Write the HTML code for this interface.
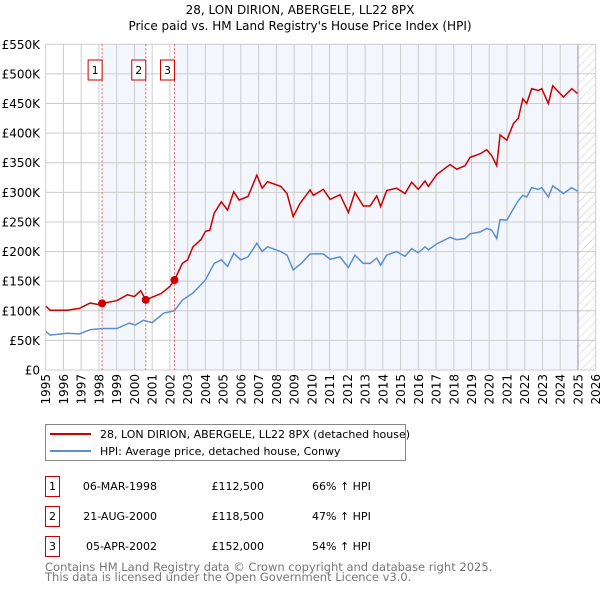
<!DOCTYPE html>
<html><head><meta charset="utf-8"><style>
body{margin:0;background:#fff;font-family:"Liberation Sans","DejaVu Sans",sans-serif}
svg{display:block}
</style></head><body>
<svg width="600" height="590" xmlns="http://www.w3.org/2000/svg" font-family="DejaVu Sans, Liberation Sans, sans-serif" id="chart">
<text x="300" y="14" text-anchor="middle" font-size="12">28, LON DIRION, ABERGELE, LL22 8PX</text>
<text x="300" y="30" text-anchor="middle" font-size="12">Price paid vs. HM Land Registry's House Price Index (HPI)</text>
<defs>
<pattern id="hatch" width="6" height="6" patternUnits="userSpaceOnUse" patternTransform="rotate(45)">
<line x1="0" y1="0" x2="0" y2="6" stroke="#ccc" stroke-width="1"/></pattern>
<clipPath id="clip"><rect x="45.7" y="44.3" width="550" height="325.7"/></clipPath>
</defs>
<g id="bands"></g><g id="grid"></g><g id="axes"></g><g id="series" clip-path="url(#clip)"></g><g id="marks"></g>
<g>
<rect x="45.5" y="424.5" width="360" height="36" fill="#fff" stroke="#888"/>
<line x1="50" y1="434" x2="91" y2="434" stroke="#cc0000" stroke-width="2"/>
<text x="100" y="438" font-size="11">28, LON DIRION, ABERGELE, LL22 8PX (detached house)</text>
<line x1="50" y1="451" x2="91" y2="451" stroke="#5b8fd0" stroke-width="2"/>
<text x="100" y="455" font-size="11">HPI: Average price, detached house, Conwy</text>
</g>
<g id="table" font-size="11"></g>
<text x="45" y="571" font-size="11.5" fill="#777">Contains HM Land Registry data © Crown copyright and database right 2025.</text>
<text x="45" y="581" font-size="11.5" fill="#777">This data is licensed under the Open Government Licence v3.0.</text>
</svg>
<script>
const NS="http://www.w3.org/2000/svg";
const yearTicks=[1995,1996,1997,1998,1999,2000,2001,2002,2003,2004,2005,2006,2007,2008,2009,2010,2011,2012,2013,2014,2015,2016,2017,2018,2019,2020,2021,2022,2023,2024,2025,2026];
const valueTicks=[0,50000,100000,150000,200000,250000,300000,350000,400000,450000,500000,550000];
const valueLabels=["£0","£50K","£100K","£150K","£200K","£250K","£300K","£350K","£400K","£450K","£500K","£550K"];
const hpiYears=[1995,1995.25,1996.2,1996.9,1997.5,1998.17,1999,1999.7,2000.05,2000.5,2001,2001.65,2002.25,2002.7,2003.3,2003.75,2004,2004.5,2004.9,2005.25,2005.6,2006,2006.4,2006.9,2007.2,2007.5,2008.25,2008.6,2008.95,2009.4,2009.9,2010.65,2011.03,2011.59,2012.06,2012.43,2012.9,2013.28,2013.66,2013.88,2014.22,2014.78,2015.25,2015.63,2016,2016.38,2016.57,2017.04,2017.79,2018.17,2018.64,2018.92,2019.48,2019.86,2020.14,2020.42,2020.61,2020.99,2021.36,2021.64,2021.89,2022.11,2022.39,2022.77,2022.96,2023.33,2023.58,2024.18,2024.65,2024.97];
const hpiValues=[65,59,62,61,68,70,70,79,76,84,80,96,100,118,130,144,152,180,186,175,197,186,191,214,200,208,200,194,169,180,196,196,187,191,173,194,180,180,189,177,194,200,192,205,198,208,203,213,224,220,222,230,233,239,236,222,254,253,272,286,295,292,308,305,308,292,311,298,308,302];
const priceYears=[1995,1995.25,1996.2,1996.9,1997.5,1998.1,1998.17,1999,1999.6,2000,2000.35,2000.64,2001.5,2002,2002.26,2002.7,2003,2003.3,2003.75,2004,2004.25,2004.5,2004.9,2005.25,2005.6,2005.9,2006.4,2006.9,2007.2,2007.5,2008.25,2008.6,2008.95,2009.33,2009.9,2010.09,2010.65,2011.03,2011.59,2012.06,2012.43,2012.9,2013.28,2013.66,2013.88,2014.22,2014.78,2015.25,2015.63,2016,2016.38,2016.57,2017.04,2017.79,2018.17,2018.64,2018.92,2019.48,2019.86,2020.14,2020.42,2020.61,2020.99,2021.36,2021.64,2021.89,2022.11,2022.39,2022.77,2022.96,2023.33,2023.58,2024.18,2024.65,2024.97];
const priceValues=[108,101,101,104,113,110,112.5,117,127,124,134,118.5,129,141,152,180,186,208,220,234,236,265,284,270,301,287,293,329,307,318,310,298,259,281,304,295,305,288,296,266,300,277,277,294,276,303,307,298,317,305,319,310,330,347,339,345,359,365,372,362,345,397,388,416,425,458,450,475,472,475,450,480,461,475,467];
const saleLabels=["1","2","3"];
const saleYears=[1998.18,2000.64,2002.26];
const salePrices=[112500,118500,152000];
const saleDates=["06-MAR-1998","21-AUG-2000","05-APR-2002"];
const salePriceText=["£112,500","£118,500","£152,000"];
const salePct=["66% ↑ HPI","47% ↑ HPI","54% ↑ HPI"];
const X0=45.7,X1=595.7,Y0=370,Y1=44.3,T0=1995,T1=2026,VMAX=550000,DATA_END=2025.0;
const xs=t=>X0+(t-T0)/(T1-T0)*(X1-X0);
const ys=v=>Y0-v/VMAX*(Y0-Y1);
function el(tag,attrs,parent){const e=document.createElementNS(NS,tag);for(const k in attrs)e.setAttribute(k,attrs[k]);parent.appendChild(e);return e;}
const bands=document.getElementById('bands');
let r=el('rect',{x:X0,y:Y1,width:X1-X0,height:Y0-Y1,fill:'#fff'},bands);


r=el('rect',{x:xs(saleYears[0]),y:Y1,width:xs(saleYears[1])-xs(saleYears[0]),height:Y0-Y1,fill:'#f3f6fd'},bands);


r=el('rect',{x:xs(saleYears[2]),y:Y1,width:xs(DATA_END)-xs(saleYears[2]),height:Y0-Y1,fill:'#f3f6fd'},bands);


r=el('rect',{x:xs(DATA_END),y:Y1,width:X1-xs(DATA_END),height:Y0-Y1,fill:'url(#hatch)'},bands);


const grid=document.getElementById('grid'),axes=document.getElementById('axes');
yearTicks.forEach(t=>{
 const l=el('line',{x1:xs(t),x2:xs(t),y1:Y1,y2:Y0,stroke:'#ccc','stroke-width':1},grid);
 
 
 const tx=el('text',{x:0,y:0,'font-size':12,'text-anchor':'end',transform:`translate(${xs(t)+4.5},${Y0+4}) rotate(-90)`},axes);
 tx.textContent=t;
 
 
});
valueTicks.forEach((v,i)=>{
 const l=el('line',{x1:X0,x2:X1,y1:ys(v),y2:ys(v),stroke:'#ccc','stroke-width':1},grid);
 
 
 const tx=el('text',{x:40,y:ys(v)+4.5,'font-size':12,'text-anchor':'end'},axes);
 tx.textContent=valueLabels[i];
 
 
});
let el2=el('line',{x1:xs(DATA_END),x2:xs(DATA_END),y1:Y1,y2:Y0,stroke:'#999','stroke-width':1},grid);


const series=document.getElementById('series');
let p=el('polyline',{points:hpiYears.map((t,i)=>xs(t)+','+ys(hpiValues[i]*1000)).join(' '),fill:'none',stroke:'#5b8fd0','stroke-width':1.5},series);


p=el('polyline',{points:priceYears.map((t,i)=>xs(t)+','+ys(priceValues[i]*1000)).join(' '),fill:'none',stroke:'#cc0000','stroke-width':1.5},series);


const marks=document.getElementById('marks'),table=document.getElementById('table');
saleYears.forEach((t,i)=>{
 const l=el('line',{x1:xs(t),x2:xs(t),y1:Y1,y2:Y0,stroke:'#e06060','stroke-width':1,'stroke-dasharray':'2,2'},marks);
 
 
 const c=el('circle',{cx:xs(t),cy:ys(salePrices[i]),r:4,fill:'#cc0000'},marks);
 
 
 const b=el('rect',{x:xs(t)-14,y:60,width:14,height:20,fill:'#fff',stroke:'#cc0000'},marks);
 
 
 const bt=el('text',{x:xs(t)-7,y:74,'font-size':11,'text-anchor':'middle'},marks);
 bt.textContent=saleLabels[i];
 
 
 const ry=476+i*30;
 const tb=el('rect',{x:45.5,y:ry+0.5,width:14,height:20,fill:'#fff',stroke:'#cc0000'},table);
 
 
 const t1=el('text',{x:52.5,y:ry+14,'text-anchor':'middle'},table);
 t1.textContent=saleLabels[i];
 
 
 const t2=el('text',{x:157,y:ry+14,'text-anchor':'end'},table);
 t2.textContent=saleDates[i];
 
 
 const t3=el('text',{x:264,y:ry+14,'text-anchor':'end'},table);
 t3.textContent=salePriceText[i];
 
 
 const t4=el('text',{x:312,y:ry+14},table);
 t4.textContent=salePct[i];
 
 
});
</script>
</body></html>
